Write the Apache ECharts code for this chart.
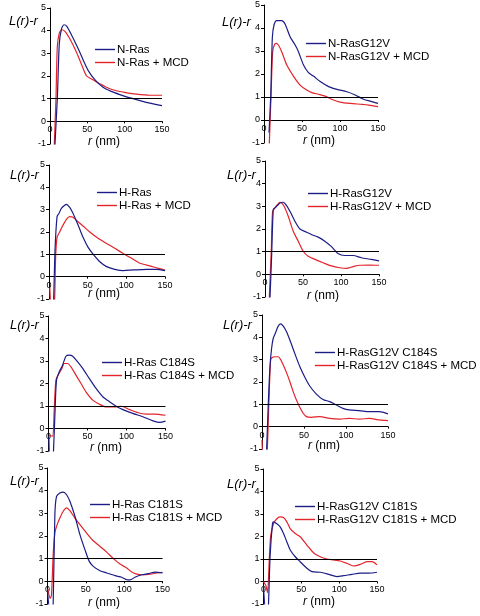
<!DOCTYPE html>
<html>
<head>
<meta charset="utf-8">
<script src="https://cdn.jsdelivr.net/npm/echarts@6/dist/echarts.min.js"></script>
<style>
html,body{margin:0;padding:0;background:#fff;}
#chart{width:480px;height:616px;}
</style>
</head>
<body>
<div id="chart"></div>
<script>
// ---- data: [r (nm), L(r)-r] ----
const nRas = [[5,-2.5],[6.7,-1],[9.8,1],[12.5,3.45],[15.6,4.1],[18.7,4.26],[22.3,4.2],[29,3.8],[37.8,3.2],[44.5,2.7],[51,2.25],[60,1.84],[71,1.5],[82,1.32],[93.5,1.18],[104.6,1.06],[115.7,0.96],[129,0.84],[150,0.69]];
const nRasMCD = [[5,-2.5],[5.8,-1],[8,1],[9.8,3.3],[12.5,3.9],[15.6,4.04],[20,3.97],[26.7,3.63],[35.6,3.04],[42.3,2.5],[49,2.0],[55.6,1.87],[66.8,1.66],[77.9,1.47],[89,1.35],[100,1.28],[115.7,1.2],[133.5,1.15],[150,1.15]];

const nRasG12V = [[6.6,-0.55],[8.8,1.0],[11,3.6],[13.2,4.13],[16.7,4.32],[23.3,4.32],[27.7,4.17],[34.3,3.62],[41,3.26],[45.3,2.97],[52,2.39],[58.5,2.06],[65,1.91],[74,1.67],[85,1.45],[96,1.33],[109,1.23],[120,1.09],[131,0.9],[142,0.8],[150,0.72]];
const nRasG12VMCD = [[6,-2],[7,-1],[9.2,1],[11.4,2.97],[13.6,3.26],[15.8,3.33],[18.9,3.26],[23.3,2.97],[30,2.39],[38.7,1.91],[47.5,1.52],[56.3,1.3],[63,1.19],[71.7,1.12],[80.5,1.04],[89,0.9],[100,0.78],[113.5,0.72],[129,0.68],[137.7,0.65],[150,0.58]];

const hRas = [[4,-2],[6,-1],[7.8,1.2],[10.4,2.69],[13,2.84],[16,3.06],[20.3,3.2],[22.5,3.24],[26.8,3.1],[31,2.84],[37.6,2.31],[44,1.76],[50.6,1.31],[57,1.01],[65.7,0.67],[74.4,0.45],[85,0.33],[96,0.27],[109,0.3],[126,0.33],[139,0.33],[150,0.27]];
const hRasMCD = [[1,-0.5],[3,-1.2],[6,-1.2],[7.3,-1],[8.6,0.9],[10.4,1.76],[13.8,2.0],[18.2,2.31],[22.5,2.57],[26.8,2.69],[31,2.66],[37.6,2.46],[44,2.27],[52.7,2.0],[63.5,1.72],[74.4,1.49],[85,1.27],[96,1.04],[106.8,0.82],[117.6,0.6],[130.6,0.48],[141.4,0.37],[150,0.3]];

const hRasG12V = [[5,-2],[6.6,-1],[8.7,0.8],[10.9,2.86],[13.1,2.93],[16.2,3.03],[19.7,3.15],[24,3.18],[28.4,3.03],[32.8,2.78],[39.4,2.34],[46,2.0],[54.7,1.86],[61,1.76],[70,1.64],[78.7,1.46],[87.5,1.22],[96,0.92],[105,0.83],[116,0.83],[126.8,0.73],[140,0.66],[150,0.59]];
const hRasG12VMCD = [[4.5,-2],[5.7,-1],[8.3,1.1],[10,2.78],[13.1,2.93],[16.2,3.07],[19.7,3.18],[21.9,3.15],[26.2,2.93],[30.6,2.56],[37.2,1.9],[43.7,1.46],[50.3,1.02],[56.8,0.8],[65.6,0.66],[76.5,0.51],[87.5,0.37],[98.4,0.29],[107,0.26],[116,0.34],[124.6,0.4],[137.7,0.41],[150,0.4]];

const hRasC184S = [[0.5,-0.35],[2,-1.3],[5.5,-1.3],[6.4,-1],[8.6,0.96],[10.3,2.15],[13.8,2.52],[18,2.81],[22.3,3.21],[26.6,3.26],[31,3.21],[37.4,2.96],[43.8,2.67],[52.4,2.22],[61,1.78],[69.6,1.41],[78.2,1.19],[86.8,0.99],[95.4,0.84],[108,0.67],[121,0.52],[134,0.34],[142.7,0.27],[150,0.33]];
const hRasC184SMCD = [[0.9,-0.3],[5.2,-0.34],[7.3,0.81],[9.5,2.15],[12.9,2.41],[17.2,2.67],[20.2,2.89],[24.5,2.89],[28.8,2.74],[35.2,2.37],[41.7,2.0],[48,1.63],[56.7,1.26],[65.3,1.08],[73.9,0.96],[84.7,0.96],[93.3,0.99],[104,0.84],[114.7,0.7],[125.5,0.64],[136,0.64],[150,0.59]];

const hRasG12VC184S = [[4.5,-2],[5.5,-1.04],[7.5,1.04],[9.5,2.69],[11.4,3.5],[13.4,3.96],[16.6,4.25],[19.3,4.5],[22,4.6],[25.3,4.5],[29.2,4.25],[33.2,3.88],[39,3.28],[45,2.69],[51,2.21],[56.8,1.82],[64.7,1.46],[72.6,1.22],[80.5,1.12],[88.4,0.97],[96.3,0.82],[104,0.75],[116,0.72],[128,0.67],[139.8,0.67],[150,0.57]];
const hRasG12VC184SMCD = [[0,-0.6],[1.5,-1.3],[5,-1.3],[6.3,-1],[8.3,1.19],[10.3,2.99],[12.2,3.1],[15.4,3.13],[19.3,3.13],[22.1,3.01],[25.3,2.76],[29.2,2.42],[33.2,2.01],[37.1,1.57],[41,1.19],[45,0.87],[49,0.6],[52.9,0.45],[58.8,0.42],[68.7,0.45],[80.5,0.37],[92.4,0.34],[104,0.37],[116,0.34],[128,0.37],[139.8,0.3],[150,0.27]];

const hRasC181S = [[0,-0.4],[3,-1.2],[6,-1.2],[7.4,-1],[9.6,2.94],[11.8,3.75],[16.1,3.9],[20.5,3.94],[24.9,3.82],[29.2,3.53],[35.8,2.87],[42.3,2.06],[48.8,1.4],[54.5,0.88],[59.7,0.66],[68.5,0.47],[77.2,0.37],[88,0.25],[96.8,0.18],[103.4,0.07],[107.7,0.06],[114,0.18],[123,0.29],[131.7,0.34],[140.4,0.41],[150,0.37]];
const hRasC181SMCD = [[0.5,-0.34],[3.5,-0.75],[5.2,-0.6],[7.4,1.18],[9.6,2.13],[12.6,2.5],[16.1,2.79],[20.5,3.09],[24.9,3.24],[29.2,3.12],[35.8,2.79],[42.3,2.5],[51,2.13],[59.7,1.79],[68.5,1.54],[77.2,1.29],[86,1.0],[94.6,0.76],[103.4,0.59],[110,0.41],[116.4,0.32],[125,0.29],[133.9,0.32],[142.6,0.37],[150,0.4]];

const hRasG12VC181S = [[0,-0.2],[3,-1.3],[5.5,-1.3],[6.6,-1],[8.8,1.18],[11.9,2.57],[13.2,2.65],[17.6,2.57],[22,2.43],[26.5,2.13],[30.9,1.76],[35.3,1.4],[41.9,1.1],[48.5,0.88],[57.3,0.59],[64,0.44],[75,0.41],[86,0.32],[97,0.22],[106,0.26],[117,0.32],[128,0.37],[139,0.37],[150,0.41]];
const hRasG12VC181SMCD = [[0,0],[3.5,-0.22],[5.3,-0.5],[7.9,1.18],[9.7,2.06],[13.2,2.57],[17.6,2.79],[22,2.87],[26.5,2.84],[30.9,2.65],[35.3,2.35],[41.9,2.13],[48.5,1.99],[57.3,1.62],[66,1.28],[75,1.1],[83.8,1.0],[92.6,0.96],[101.4,0.91],[110,0.81],[119,0.69],[128,0.76],[136.8,0.88],[143.4,0.88],[150,0.74]];

const names = [
  ['N-Ras','N-Ras + MCD'],
  ['N-RasG12V','N-RasG12V + MCD'],
  ['H-Ras','H-Ras + MCD'],
  ['H-RasG12V','H-RasG12V + MCD'],
  ['H-Ras C184S','H-Ras C184S + MCD'],
  ['H-RasG12V C184S','H-RasG12V C184S + MCD'],
  ['H-Ras C181S','H-Ras C181S + MCD'],
  ['H-RasG12V C181S','H-RasG12V C181S + MCD']
];
const seriesData = [
  [nRas, nRasMCD],
  [nRasG12V, nRasG12VMCD],
  [hRas, hRasMCD],
  [hRasG12V, hRasG12VMCD],
  [hRasC184S, hRasC184SMCD],
  [hRasG12VC184S, hRasG12VC184SMCD],
  [hRasC181S, hRasC181SMCD],
  [hRasG12VC181S, hRasG12VC181SMCD]
];
const yTicks = [-1, 0, 1, 2, 3, 4, 5];
const xTicks = [0, 50, 100, 150];
const yTitle = 'L(r)-r';

// ---- layout ----
const grids = [
  {left:50,  top:8,   width:112, height:136},
  {left:264, top:5,   width:114, height:138},
  {left:49,  top:165, width:116, height:134},
  {left:265, top:161, width:114, height:136},
  {left:48.5,top:316, width:117, height:135},
  {left:262, top:315, width:126, height:134},
  {left:47.5,top:468, width:115, height:136},
  {left:263.5,top:469,width:113.5,height:135}
];
const legendPos = [
  {left:95, top:43},
  {left:306,top:37},
  {left:97, top:186},
  {left:308,top:187},
  {left:102,top:356},
  {left:315,top:346},
  {left:90, top:498},
  {left:295,top:500}
];
const yTitlePos = [[9,23],[222,24],[10,177],[227,177],[10,327],[223,327],[10,483],[227,486]];
const xTitlePos = [[88,143],[303,142],[88,295],[307,297],[90,449],[308,447],[88,604],[303,603]];

const BLUE = '#1c1c86';
const RED = '#e3242b';
const FONT = 'Liberation Sans, Arial, sans-serif';

const xAxis = [], yAxis = [], series = [], legend = [], graphic = [];
grids.forEach((g, i) => {
  const y0 = yTicks[0], y1 = yTicks[yTicks.length-1];
  xAxis.push({
    type:'value', gridIndex:i, min:xTicks[0], max:xTicks[xTicks.length-1], interval:50,
    position:'bottom', offset: -g.height * (0 - y0) / (y1 - y0),
    axisLine:{show:true, onZero:false, lineStyle:{color:'#000', width:1}},
    axisTick:{show:true, length:2, lineStyle:{color:'#000'}},
    axisLabel:{fontSize:9, color:'#000', margin:4, fontFamily:FONT},
    splitLine:{show:false}
  });
  yAxis.push({
    type:'value', gridIndex:i, min:y0, max:y1, interval:1,
    axisLine:{show:true, onZero:false, lineStyle:{color:'#000', width:1}},
    axisTick:{show:true, length:3, lineStyle:{color:'#000'}},
    axisLabel:{fontSize:9, color:'#000', margin:4, fontFamily:FONT},
    splitLine:{show:false}
  });
  [0,1].forEach(k => {
    const s = {
      type:'line', name:names[i][k], xAxisIndex:i, yAxisIndex:i,
      data:seriesData[i][k], symbol:'none', smooth:0.25, clip:true,
      lineStyle:{color:k===0?BLUE:RED, width:1.2},
      itemStyle:{color:k===0?BLUE:RED},
      silent:true, animation:false, z:k===0?3:2
    };
    if (k===0) {
      s.markLine = {
        silent:true, symbol:['none','none'], label:{show:false},
        lineStyle:{color:'#000', type:'solid', width:1},
        data:[{yAxis:1}], animation:false
      };
    }
    series.push(s);
  });
  legend.push({
    data:names[i].map(n => ({name:n, icon:'rect'})), orient:'vertical',
    left:legendPos[i].left, top:legendPos[i].top,
    itemWidth:20, itemHeight:1.4, itemGap:0, selectedMode:false,
    textStyle:{fontSize:11.5, color:'#000', fontFamily:FONT, lineHeight:13, padding:[0,0,0,-3]},
    padding:0
  });
  graphic.push({
    type:'text', left:yTitlePos[i][0], top:yTitlePos[i][1]-8,
    style:{text:yTitle, font:'italic 13px ' + FONT, fill:'#000'}
  });
  graphic.push({
    type:'text', left:xTitlePos[i][0], top:xTitlePos[i][1]-7,
    style:{
      text:'{i|r} (nm)',
      rich:{i:{fontStyle:'italic', fontSize:12, fontFamily:FONT, fill:'#000'}},
      fontSize:12, fontFamily:FONT, fill:'#000'
    }
  });
});

const chart = echarts.init(document.getElementById('chart'), null, {renderer:'canvas'});
chart.setOption({
  backgroundColor:'#fff',
  animation:false,
  grid:grids.map(g => Object.assign({containLabel:false}, g)),
  xAxis, yAxis, series, legend, graphic
});
</script>
</body>
</html>
